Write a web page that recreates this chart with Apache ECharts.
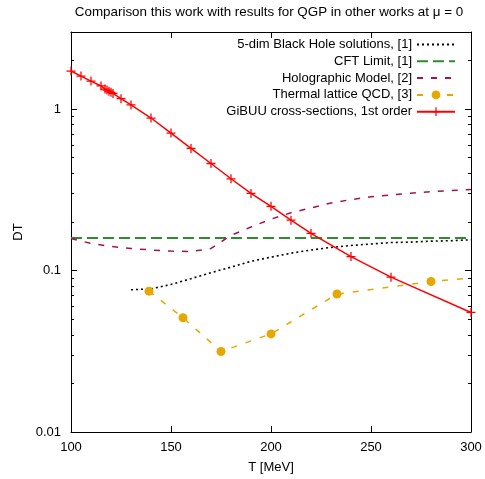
<!DOCTYPE html>
<html>
<head>
<meta charset="utf-8">
<script src="https://cdn.jsdelivr.net/npm/echarts@6/dist/echarts.min.js"></script>
<style>
  html, body { margin: 0; padding: 0; background: #fff; }
  #chart { width: 485px; height: 479px; }
</style>
</head>
<body>
<div id="chart"></div>
<script>
// GiBUU cross-sections, 1st order
var gibuuT  = [100, 105, 110, 115, 117, 118, 119, 120, 121, 125, 130, 140, 150, 160, 170, 180, 190, 200, 210, 220, 240, 260, 300];
var gibuuDT = [1.72, 1.60, 1.49, 1.39, 1.33, 1.31, 1.29, 1.27, 1.25, 1.16, 1.06, 0.88, 0.71, 0.57, 0.46, 0.37, 0.30, 0.25, 0.205, 0.170, 0.122, 0.091, 0.055];
// 5-dim Black Hole solutions
var bhT  = [130, 140, 150, 160, 170, 180, 190, 200, 210, 220, 230, 240, 250, 260, 270, 280, 290, 300];
var bhDT = [0.076, 0.077, 0.082, 0.089, 0.097, 0.105, 0.114, 0.121, 0.128, 0.134, 0.139, 0.143, 0.146, 0.149, 0.150, 0.152, 0.153, 0.155];
// CFT limit, 1/(2 pi)
var cftT  = [100, 300];
var cftDT = [0.159, 0.159];
// Holographic model
var holoT  = [100, 110, 120, 130, 140, 150, 160, 170, 180, 190, 200, 210, 220, 230, 240, 250, 260, 270, 280, 290, 300];
var holoDT = [0.158, 0.147, 0.141, 0.137, 0.134, 0.132, 0.131, 0.137, 0.165, 0.186, 0.208, 0.228, 0.244, 0.262, 0.275, 0.286, 0.294, 0.301, 0.308, 0.313, 0.318];
// Thermal lattice QCD (last entry only continues the line to the border)
var latT  = [139, 156, 175, 200, 233, 280, 300];
var latDT = [0.0745, 0.051, 0.0315, 0.0405, 0.0715, 0.0855, 0.090];
// ticks
var xTicks = [100, 150, 200, 250, 300];
var yMajor = [0.01, 0.1, 1];
var yMinor = [0.02, 0.03, 0.04, 0.05, 0.06, 0.07, 0.08, 0.09, 0.2, 0.3, 0.4, 0.5, 0.6, 0.7, 0.8, 0.9, 2, 3];

var names = ['5-dim Black Hole solutions, [1]', 'CFT Limit, [1]', 'Holographic Model, [2]',
             'Thermal lattice QCD, [3]', 'GiBUU cross-sections, 1st order'];

function pairs(xs, ys) {
    return xs.map(function (x, i) { return [x, ys[i]]; });
}

var font = 'Liberation Sans, Arial, sans-serif';
var plusPath = 'path://M0,4.3H10V5.7H0Z M4.3,0H5.7V10H4.3Z';

function xAx(pos, show) {
    return {
        type: 'value', min: 100, max: 300, interval: 50, position: pos,
        axisLine: { show: true, onZero: false, lineStyle: { color: '#000', width: 1 } },
        axisTick: { show: true, inside: true, length: 6, customValues: xTicks, lineStyle: { color: '#000' } },
        axisLabel: { show: show, color: '#000', fontSize: 13, fontFamily: font, margin: 9 },
        splitLine: { show: false },
        name: show ? 'T [MeV]' : '', nameLocation: 'middle', nameGap: 29,
        nameTextStyle: { color: '#000', fontSize: 13, fontFamily: font }
    };
}

function yAx(pos, ticks, len, labels, line) {
    return {
        type: 'log', logBase: 10, min: 0.01, max: 3, position: pos,
        axisLine: { show: line, onZero: false, lineStyle: { color: '#000', width: 1 } },
        axisTick: { show: true, inside: true, length: len, customValues: ticks, lineStyle: { color: '#000' } },
        axisLabel: {
            show: labels, customValues: yMajor, color: '#000', fontSize: 13, fontFamily: font, margin: 10,
            formatter: function (v) { return String(+v.toPrecision(3)); }
        },
        splitLine: { show: false },
        minorTick: { show: false },
        name: labels ? 'DT' : '', nameLocation: 'middle', nameGap: 40, nameRotate: 90,
        nameTextStyle: { color: '#000', fontSize: 13, fontFamily: font }
    };
}

var chart = echarts.init(document.getElementById('chart'), null, { renderer: 'canvas' });
chart.setOption({
    animation: false,
    backgroundColor: '#fff',
    title: {
        text: 'Comparison this work with results for QGP in other works at μ = 0',
        left: 269, top: 6, textAlign: 'center', padding: 0,
        textStyle: { color: '#000', fontSize: 13.4, fontWeight: 'normal', fontFamily: font }
    },
    grid: { left: 71, right: 14, top: 32, bottom: 43, containLabel: false },
    legend: {
        orient: 'vertical', right: 29, top: 38, align: 'right', padding: 0,
        itemWidth: 38, itemHeight: 11, itemGap: 3.8,
        textStyle: { color: '#000', fontSize: 13, fontFamily: font },
        // line-only series: hide the marker that the legend would add
        data: names.map(function (n, i) {
            return i < 3 ? { name: n, itemStyle: { opacity: 0 } } : n;
        })
    },
    xAxis: [xAx('bottom', true), xAx('top', false)],
    yAxis: [
        yAx('left', yMajor, 6, true, true),
        yAx('left', yMinor, 3, false, false),
        yAx('right', yMajor, 6, false, true),
        yAx('right', yMinor, 3, false, false)
    ],
    series: [
        {
            name: names[0], type: 'line', symbol: 'none',
            lineStyle: { color: '#000', width: 1.6, type: [2, 3] }, itemStyle: { color: '#000' },
            data: pairs(bhT, bhDT)
        },
        {
            name: names[1], type: 'line', symbol: 'none',
            lineStyle: { color: '#2e8b2e', width: 2, type: [11, 5] }, itemStyle: { color: '#2e8b2e' },
            data: pairs(cftT, cftDT)
        },
        {
            name: names[2], type: 'line', symbol: 'none',
            lineStyle: { color: '#a3134f', width: 1.5, type: [6, 8] }, itemStyle: { color: '#a3134f' },
            data: pairs(holoT, holoDT)
        },
        {
            name: names[3], type: 'line', symbol: 'circle', symbolSize: 9,
            lineStyle: { color: '#e6a800', width: 1.5, type: [6, 9] }, itemStyle: { color: '#e6a800' },
            data: latT.map(function (t, i) {
                return i === latT.length - 1 ? { value: [t, latDT[i]], symbol: 'none' } : [t, latDT[i]];
            })
        },
        {
            name: names[4], type: 'line', symbol: plusPath, symbolSize: 9,
            lineStyle: { color: '#ff0000', width: 1.5 }, itemStyle: { color: '#ff0000' },
            data: pairs(gibuuT, gibuuDT)
        }
    ]
});
</script>
</body>
</html>
